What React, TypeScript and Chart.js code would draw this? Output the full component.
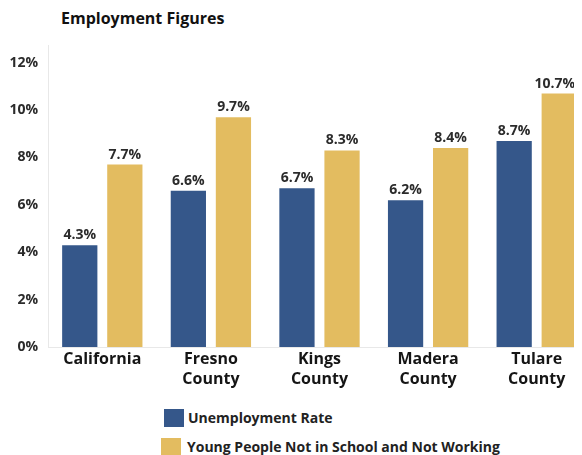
import React, { useEffect, useRef } from "react";
import { Chart, registerables } from "chart.js";

Chart.register(...registerables);

const chartTitle = "Employment Figures";
const categories: (string | string[])[] = [
  "California",
  ["Fresno", "County"],
  ["Kings", "County"],
  ["Madera", "County"],
  ["Tulare", "County"],
];
const seriesNames = ["Unemployment Rate", "Young People Not in School and Not Working"];
const unemploymentRate = [4.3, 6.6, 6.7, 6.2, 8.7];
const youngNotInSchool = [7.7, 9.7, 8.3, 8.4, 10.7];
const seriesColors = ["#35578A", "#E3BC60"];
const yMin = 0;
const yMax = 12.75;
const yStep = 2;

const FONT = "'Open Sans', 'Noto Sans', sans-serif";
const LABEL_RIGHT_LIMIT = 567;

const valueLabels = {
  id: "valueLabels",
  afterDatasetsDraw(chart: any) {
    const ctx = chart.ctx;
    ctx.save();
    ctx.font = `bold 14px ${FONT}`;
    ctx.fillStyle = "#2b2b2b";
    ctx.textAlign = "center";
    ctx.textBaseline = "alphabetic";
    chart.data.datasets.forEach((ds: any, i: number) => {
      const meta = chart.getDatasetMeta(i);
      meta.data.forEach((el: any, j: number) => {
        const v = ds.data[j] as number;
        const text = `${v.toFixed(1)}%`;
        const w = ctx.measureText(text).width;
        let x = el.x;
        if (x + w / 2 > LABEL_RIGHT_LIMIT) x = LABEL_RIGHT_LIMIT - w / 2;
        ctx.fillText(text, x, el.y - 6);
      });
    });
    ctx.restore();
  },
};

export default function App() {
  const canvasRef = useRef<HTMLCanvasElement | null>(null);

  useEffect(() => {
    document.documentElement.style.overflow = "hidden";
    document.body.style.overflow = "hidden";
    if (!canvasRef.current) return;
    const chart = new Chart(canvasRef.current, {
      type: "bar",
      data: {
        labels: categories,
        datasets: [
          {
            label: seriesNames[0],
            data: unemploymentRate,
            backgroundColor: seriesColors[0],
            barPercentage: 0.782,
            categoryPercentage: 0.83,
          },
          {
            label: seriesNames[1],
            data: youngNotInSchool,
            backgroundColor: seriesColors[1],
            barPercentage: 0.782,
            categoryPercentage: 0.83,
          },
        ],
      },
      options: {
        animation: false,
        responsive: true,
        maintainAspectRatio: false,
        layout: { padding: { top: 37, right: 17, left: 0, bottom: 0 } },
        plugins: {
          legend: { display: false },
          title: { display: false },
          tooltip: { enabled: false },
        },
        scales: {
          x: {
            grid: { display: false, drawTicks: false },
            border: { display: true, color: "#e8e8e8", width: 1 },
            ticks: {
              color: "#151515",
              padding: 2,
              maxRotation: 0,
              autoSkip: false,
              font: { family: FONT, size: 16, weight: "bold", lineHeight: 1.25 },
            },
            afterFit(scale: any) {
              scale.height = 46;
            },
          },
          y: {
            min: yMin,
            max: yMax,
            grid: { display: false, drawTicks: false },
            border: { display: true, color: "#e8e8e8", width: 1 },
            ticks: {
              stepSize: yStep,
              includeBounds: false,
              color: "#2b2b2b",
              padding: 10,
              font: { family: FONT, size: 14, weight: "bold" },
              callback: (v: any) => `${v}%`,
            },
            afterFit(scale: any) {
              scale.width = 40;
            },
          },
        },
      } as any,
      plugins: [valueLabels],
    });
    return () => chart.destroy();
  }, []);

  return (
    <div
      style={{
        position: "relative",
        width: 574,
        height: 447,
        fontFamily: FONT,
      }}
    >
      <div
        style={{
          position: "absolute",
          left: 53,
          top: 0,
          fontSize: 16,
          lineHeight: "20px",
          fontWeight: 700,
          color: "#111",
          whiteSpace: "nowrap",
        }}
      >
        {chartTitle}
      </div>
      <div style={{ position: "absolute", left: 0, top: 0, width: 600, height: 385 }}>
        <canvas ref={canvasRef} />
      </div>
      {seriesNames.map((name, i) => (
        <div
          key={name}
          style={{
            position: "absolute",
            left: i === 0 ? 156 : 153,
            top: i === 0 ? 401 : 430,
            height: 18,
            display: "flex",
            alignItems: "center",
            whiteSpace: "nowrap",
          }}
        >
          <span
            style={{
              display: "inline-block",
              width: 20,
              height: 18,
              background: seriesColors[i],
              marginRight: i === 0 ? 4 : 6,
            }}
          />
          <span style={{ fontSize: 14, fontWeight: 700, color: "#222", lineHeight: "18px" }}>
            {name}
          </span>
        </div>
      ))}
    </div>
  );
}
